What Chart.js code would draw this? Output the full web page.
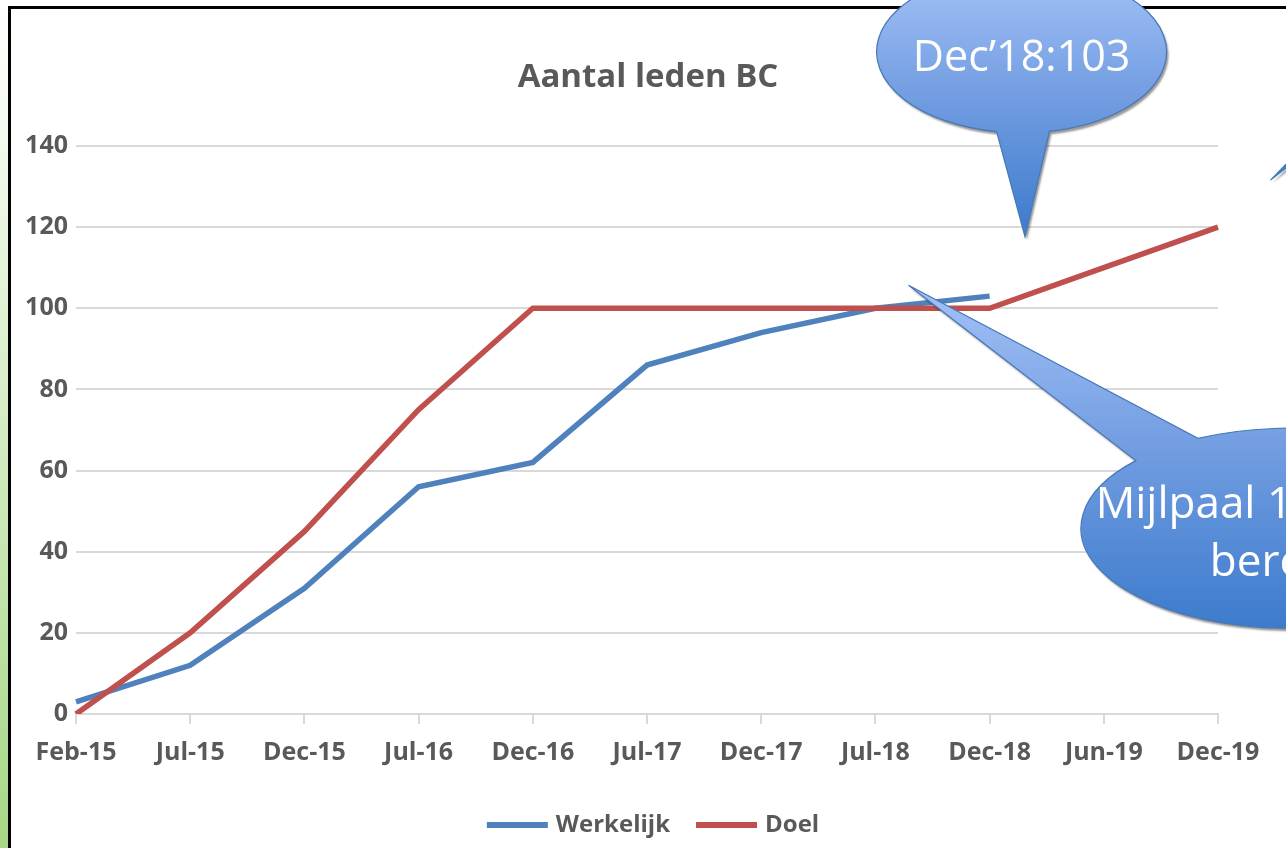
<!DOCTYPE html>
<html>
<head>
<meta charset="utf-8">
<script src="https://cdn.jsdelivr.net/npm/chart.js@4.4.0/dist/chart.umd.min.js"></script>
<style>
html,body{margin:0;padding:0;background:#fff;overflow:hidden}
#wrap{position:relative;width:1286px;height:848px}
</style>
</head>
<body>
<div id="wrap"><canvas id="c" width="1286" height="848"></canvas></div>
<script>
// chart values
const categories = ['Feb-15','Jul-15','Dec-15','Jul-16','Dec-16','Jul-17','Dec-17','Jul-18','Dec-18','Jun-19','Dec-19'];
const werkelijk = [3,12,31,56,62,86,94,100,103,null,null];
const doel = [0,20,45,75,100,100,100,100,100,110,120];
const yTicks = [0,20,40,60,80,100,120,140];

const FONT = '"Open Sans", "DejaVu Sans", sans-serif';
const GREY = '#595959';

// speech bubbles, anchored in data units (category index, value)
const callouts = [
	{'lines':['Dec\u201918:103'],'at':[8.28,163.2],'rx':145,'ry':81,'tip':[8.31,117.6],'base':[99.9,438.9],'size':43,'dx':0},
	{'lines':['Mijlpaal 100 leden','bereikt'],'at':[10.63,45.8],'rx':209,'ry':100,'tip':[7.29,105.7],'base':[243.9,582.5],'size':44,'dx':-8},
	{'lines':[],'at':[11.77,161.2],'rx':130,'ry':75,'tip':[10.46,131.6],'base':[132,485],'size':44,'dx':0}
];

function drawBubble(ctx,chart,b){
	var xs = chart.scales.x, ys = chart.scales.y;
	var cx = xs.getPixelForValue(b.at[0]), cy = ys.getPixelForValue(b.at[1]);
	var tx = xs.getPixelForValue(b.tip[0]), ty = ys.getPixelForValue(b.tip[1]);
	var top = Math.min(cy-b.ry,ty), bot = Math.max(cy+b.ry,ty);
	ctx.save();
	ctx.beginPath();
	ctx.ellipse(cx,cy,b.rx,b.ry,0,b.base[0]*Math.PI/180,b.base[1]*Math.PI/180);
	ctx.lineTo(tx,ty);
	ctx.closePath();
	var g = ctx.createLinearGradient(0,top,0,bot);
	g.addColorStop(0,'#a3c1f7');
	g.addColorStop(0.5,'#6f9be0');
	g.addColorStop(1,'#3c7bcc');
	ctx.shadowColor = 'rgba(0,0,0,0.4)';
	ctx.shadowOffsetX = 2;
	ctx.shadowOffsetY = 3;
	ctx.shadowBlur = 2;
	ctx.fillStyle = g;
	ctx.fill();
	ctx.shadowColor = 'transparent';
	ctx.lineWidth = 1.2;
	ctx.strokeStyle = '#4777b8';
	ctx.stroke();
	// text
	ctx.fillStyle = '#ffffff';
	ctx.font = b.size+'px '+FONT;
	ctx.textAlign = 'center';
	ctx.textBaseline = 'alphabetic';
	var n = b.lines.length;
	for(var i = 0; i < n; i++) ctx.fillText(b.lines[i],cx+b.dx,cy+19+(i-(n-1)/2)*58);
	ctx.restore();
}

const decor = {
	id:'decor',
	beforeDraw: function(chart){
		var ctx = chart.ctx;
		ctx.save();
		ctx.fillStyle = '#ffffff';
		ctx.fillRect(0,0,chart.width,chart.height);
		// green strip on the left
		var g = ctx.createLinearGradient(0,0,0,chart.height);
		g.addColorStop(0,'#ffffff');
		g.addColorStop(0.15,'#f4faef');
		g.addColorStop(1,'#a6d785');
		ctx.fillStyle = g;
		ctx.fillRect(0,0,8,chart.height);
		// black frame
		ctx.fillStyle = '#000000';
		ctx.fillRect(8,6,3,chart.height-6);
		ctx.fillRect(8,6,chart.width-8,3);
		ctx.restore();
	},
	afterDraw: function(chart){
		var ctx = chart.ctx;
		// legend
		ctx.save();
		ctx.font = 'bold 24px '+FONT;
		ctx.textBaseline = 'middle';
		ctx.textAlign = 'left';
		var items = chart.data.datasets.map(function(d){ return {'text':d.label,'colour':d.borderColor,'w':61+8+ctx.measureText(d.label).width}; });
		var total = 0;
		items.forEach(function(it,i){ total += it.w + (i ? 26 : 0); });
		var x = 653 - total/2, y = 825;
		items.forEach(function(it){
			ctx.fillStyle = it.colour;
			ctx.fillRect(x,y-3,61,6);
			ctx.fillStyle = GREY;
			ctx.fillText(it.text,x+69,y);
			x += it.w + 26;
		});
		ctx.restore();
		callouts.forEach(function(b){ drawBubble(ctx,chart,b); });
	}
};

Chart.defaults.font.family = FONT;

new Chart(document.getElementById('c'),{
	type:'line',
	data:{
		labels:categories,
		datasets:[
			{'label':'Werkelijk','data':werkelijk,'borderColor':'#4f81bd','backgroundColor':'#4f81bd','borderWidth':5.5,'pointRadius':0,'tension':0,'order':1,'borderCapStyle':'butt'},
			{'label':'Doel','data':doel,'borderColor':'#c0504d','backgroundColor':'#c0504d','borderWidth':5.5,'pointRadius':0,'tension':0,'order':0,'borderCapStyle':'butt'}
		]
	},
	options:{
		responsive:false,
		animation:false,
		devicePixelRatio:1,
		layout:{'padding':{'left':10,'right':0,'top':0,'bottom':0}},
		plugins:{
			legend:{'display':false},
			tooltip:{'enabled':false},
			title:{
				'display':true,
				'text':'Aantal leden BC',
				'color':GREY,
				'font':{'size':33,'weight':'bold'},
				'padding':{'top':58,'bottom':48.4}
			}
		},
		scales:{
			x:{
				offset:false,
				grid:{'display':true,'drawOnChartArea':false,'drawTicks':true,'tickLength':10,'color':'#d9d9d9','lineWidth':2},
				border:{'display':true,'color':'#d9d9d9','width':2},
				ticks:{'color':GREY,'font':{'size':25,'weight':'bold'},'padding':14,'maxRotation':0,'autoSkip':false},
				afterFit:function(s){ s.height = 134; s.paddingRight = 68; }
			},
			y:{
				min:0,max:140,
				grid:{'color':'#d9d9d9','lineWidth':2,'drawTicks':false},
				border:{'display':false},
				ticks:{'color':GREY,'font':{'size':25,'weight':'bold'},'padding':8},
				afterBuildTicks:function(s){ s.ticks = yTicks.map(function(v){ return {'value':v}; }); },
				afterFit:function(s){ s.width = 66; }
			}
		}
	},
	plugins:[decor]
});
</script>
</body>
</html>
